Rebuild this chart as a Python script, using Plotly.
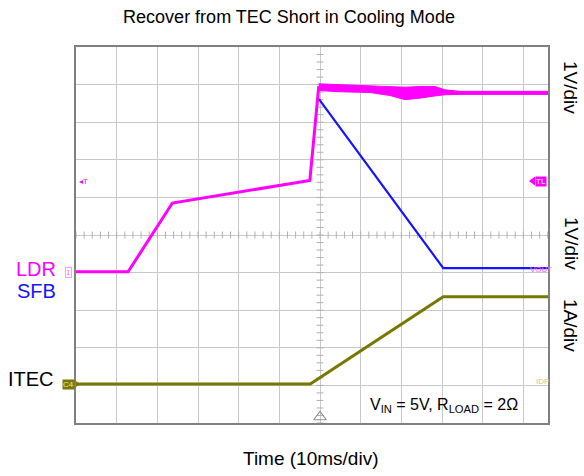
import numpy as np
import plotly.graph_objects as go

# Time axis in ms (trigger at 0), vertical axis in screen divisions (centre = 0)
# LDR channel before and through the short-circuit recovery
ldr_t = [-60.0, -47.2, -36.3, -2.5, -0.3]
ldr_v = [-0.98, -0.98, 0.85, 1.45, 3.96]

# LDR after the jump: upper / lower edges of the noisy band
ldr_band_t = [-0.3, 4.9, 12.3, 17.2, 20.9, 24.6, 28.3, 30.7, 34.4, 56.06]
ldr_band_hi = [4.02, 4.00, 3.97, 3.96, 3.93, 3.95, 3.95, 3.86, 3.82, 3.82]
ldr_band_lo = [3.84, 3.81, 3.79, 3.71, 3.60, 3.64, 3.70, 3.73, 3.74, 3.74]

# SFB channel (ramps down once the short is removed)
sfb_t = [-0.3, 30.3, 56.06]
sfb_v = [3.62, -0.88, -0.88]

# TEC current
itec_t = [-60.0, -2.4, 30.3, 56.06]
itec_v = [-3.96, -3.96, -1.64, -1.64]

X_RANGE = [-60.0, 56.06]
Y_RANGE = [-5.0, 5.0]

MAGENTA = "#ff00ff"
BLUE = "#1414ff"
OLIVE = "#787800"
GRAY = "#909090"
FONT = "Liberation Sans, Arial, sans-serif"

W, H = 584, 476
L, R, T, B = 76, 548, 47, 423


def px(x):
    return (x - L) / (R - L)


def py(y):
    return (B - y) / (B - T)


def dx(x):
    return (x - 320) / 4.067


def dy(y):
    return (235 - y) / 37.6


fig = go.Figure()

# graticule minor ticks along the centre cross
tick_x = np.arange(-60, 56.1, 2.0)
tick_y = np.arange(-5, 5.01, 0.2)
fig.add_trace(go.Scatter(x=tick_x, y=np.zeros_like(tick_x), mode="markers",
                         marker=dict(symbol="line-ns", size=5, color="#b0b0b0",
                                     line=dict(color="#b0b0b0", width=1)),
                         hoverinfo="skip"))
fig.add_trace(go.Scatter(x=np.zeros_like(tick_y), y=tick_y, mode="markers",
                         marker=dict(symbol="line-ew", size=5, color="#b0b0b0",
                                     line=dict(color="#b0b0b0", width=1)),
                         hoverinfo="skip"))

fig.add_trace(go.Scatter(x=itec_t, y=itec_v, mode="lines",
                         line=dict(color=OLIVE, width=3), name="ITEC"))
fig.add_trace(go.Scatter(x=sfb_t, y=sfb_v, mode="lines",
                         line=dict(color=BLUE, width=2.2), name="SFB"))
fig.add_trace(go.Scatter(x=ldr_t, y=ldr_v, mode="lines",
                         line=dict(color=MAGENTA, width=3), name="LDR"))
fig.add_trace(go.Scatter(x=ldr_band_t, y=ldr_band_hi, mode="lines",
                         line=dict(color=MAGENTA, width=1), hoverinfo="skip"))
fig.add_trace(go.Scatter(x=ldr_band_t, y=ldr_band_lo, mode="lines", fill="tonexty",
                         fillcolor=MAGENTA, line=dict(color=MAGENTA, width=1), hoverinfo="skip"))

# trigger position marker at the bottom edge
fig.add_trace(go.Scatter(x=[0], y=[dy(417)], mode="markers", cliponaxis=False,
                         marker=dict(symbol="triangle-up-open", size=11, color=GRAY,
                                     line=dict(color=GRAY, width=1.2)),
                         hoverinfo="skip"))
# channel tag pointers: C4 and TL
fig.add_trace(go.Scatter(x=[dx(76)], y=[dy(384)], mode="markers", cliponaxis=False,
                         marker=dict(symbol="triangle-right", size=8, color=OLIVE),
                         hoverinfo="skip"))
fig.add_trace(go.Scatter(x=[dx(533)], y=[dy(181)], mode="markers", cliponaxis=False,
                         marker=dict(symbol="triangle-left", size=8, color=MAGENTA),
                         hoverinfo="skip"))

ann = []


def text(x, y, s, size, color="black", xanchor="center", **kw):
    d = dict(x=px(x), y=py(y), xref="paper", yref="paper", text=s, showarrow=False,
             xanchor=xanchor, yanchor="middle",
             font=dict(family=FONT, size=size, color=color))
    d.update(kw)
    ann.append(d)


text(310, 458, "Time (10ms/div)", 19)
text(571, 87, "1V/div", 19, textangle=90)
text(571, 243, "1V/div", 19, textangle=90)
text(571, 325, "1A/div", 19, textangle=90)
text(58, 269, "LDR", 20, MAGENTA, xanchor="right")
text(58, 291, "SFB", 20, BLUE, xanchor="right")
text(56, 379, "ITEC", 20, "black", xanchor="right")
text(444, 405, "V<sub>IN</sub> = 5V, R<sub>LOAD</sub> = 2Ω", 16)
text(68, 272, "1", 8, "#ff66ff", bordercolor="#ff99ff", borderwidth=1, borderpad=0,
     bgcolor="white")
text(68, 384, "C4", 8, "#e8e8b0", bgcolor=OLIVE, borderpad=0)
text(83, 181, "◂T", 8, MAGENTA)
text(541, 181, "TL", 8, "white", bgcolor=MAGENTA, borderpad=0)
text(541, 269, "VOUT", 8, "#ff66ff")
text(542, 381, "IDP", 8, "#c8c890")

fig.update_layout(
    width=W, height=H,
    margin=dict(l=L, r=W - R, t=T, b=H - B),
    paper_bgcolor="white", plot_bgcolor="white",
    showlegend=False,
    title=dict(text="Recover from TEC Short in Cooling Mode", x=289 / W, y=1 - 17 / H,
               xref="container", yref="container", xanchor="center", yanchor="middle",
               font=dict(family=FONT, size=18, color="black")),
    annotations=ann,
    xaxis=dict(range=X_RANGE, tick0=0, dtick=10, showgrid=True, gridcolor="#c8c8c8",
               gridwidth=1, zeroline=False, showticklabels=False, ticks="",
               showline=True, mirror=True, linecolor="#808080", linewidth=1.5),
    yaxis=dict(range=Y_RANGE, tick0=0, dtick=1, showgrid=True, gridcolor="#c8c8c8",
               gridwidth=1, zeroline=False, showticklabels=False, ticks="",
               showline=True, mirror=True, linecolor="#808080", linewidth=1.5),
)

fig.write_html("out.html")
